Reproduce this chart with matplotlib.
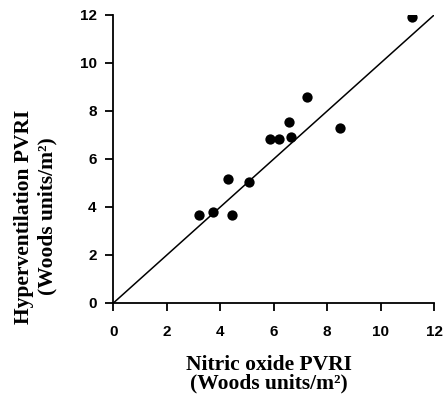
import matplotlib
matplotlib.use('Agg')
import matplotlib.pyplot as plt
import numpy as np

# Nitric oxide PVRI vs hyperventilation PVRI (Woods units/m2)
no_pvri = np.array([3.20, 3.72, 4.44, 4.30, 5.09, 5.86, 6.20, 6.58, 6.64, 7.24, 8.48, 11.19])
hv_pvri = np.array([3.65, 3.79, 3.65, 5.18, 5.05, 6.82, 6.82, 7.55, 6.90, 8.60, 7.28, 11.90])

identity = np.array([0, 12])
ticks = [0, 2, 4, 6, 8, 10, 12]

fig = plt.figure(figsize=(4.43, 3.94), dpi=100)
ax = fig.add_axes([0.256, 0.231, 0.724, 0.731])

ax.plot(identity, identity, color='black', linewidth=1.1, zorder=2)
ax.scatter(no_pvri, hv_pvri, s=55, color='black', zorder=3, linewidths=0)

ax.set_xlim(0, 12)
ax.set_ylim(0, 12)
ax.set_xticks(ticks)
ax.set_yticks(ticks)

for s in ['top', 'right']:
    ax.spines[s].set_visible(False)
for s in ['left', 'bottom']:
    ax.spines[s].set_linewidth(1.3)

ax.tick_params(direction='out', length=6, width=1.3)
ax.tick_params(axis='x', pad=10)
ax.tick_params(axis='y', pad=6)
for lab in ax.get_xticklabels() + ax.get_yticklabels():
    lab.set_fontfamily('Liberation Sans')
    lab.set_fontweight('bold')
    lab.set_fontsize(11)

ax.set_xlabel('Nitric oxide PVRI\n(Woods units/m²)', fontfamily='Liberation Serif',
              fontweight='bold', fontsize=15.5, linespacing=0.85)
ax.set_ylabel('Hyperventilation PVRI\n(Woods units/m²)', fontfamily='Liberation Serif',
              fontweight='bold', fontsize=15.5, linespacing=1.25)
ax.xaxis.set_label_coords(0.486, -0.182)
ax.yaxis.set_label_coords(-0.175, 0.30)

fig.savefig('out.png', dpi=100)
